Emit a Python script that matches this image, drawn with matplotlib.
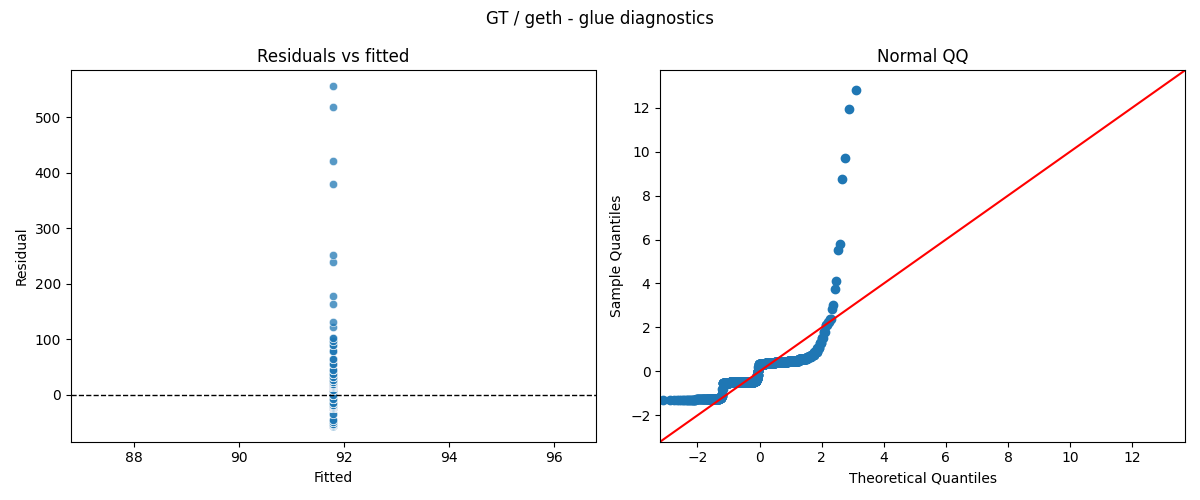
import matplotlib
matplotlib.use("Agg")
import matplotlib.pyplot as plt
import numpy as np
from statistics import NormalDist

# residual levels (raw units) and how many observations sit at each
res_levels = [-57, -56, -55, -53, -50, -45, -35,
              -24, -22, -21, -19, -15, -8, 0, 8,
              13, 16, 18, 20, 23, 27, 32, 38, 45, 55, 65, 78, 90, 97, 103,
              122, 131, 163, 178, 240, 252, 380, 422, 518, 557]
res_counts = [20, 40, 40, 10, 5, 3, 2,
              50, 150, 120, 30, 10, 8, 8, 10,
              80, 120, 130, 80, 40, 15, 10, 8, 5, 4, 3, 3, 3, 2, 2,
              1, 1, 1, 1, 1, 1, 1, 1, 1, 1]
fitted_value = 91.8

resid = np.repeat(res_levels, res_counts).astype(float)
fitted = np.full(resid.shape, fitted_value)

fig, (ax1, ax2) = plt.subplots(1, 2, figsize=(12, 5), dpi=100)
fig.suptitle("GT / geth - glue diagnostics")

ax1.scatter(fitted, resid, s=36, alpha=0.75, color="#1f77b4", edgecolors="white", linewidths=0.5)
ax1.axhline(0, color="black", linestyle="--", linewidth=1)
ax1.set_xlim(86.8, 96.8)
ax1.set_ylim(-85, 585)
ax1.set_title("Residuals vs fitted")
ax1.set_xlabel("Fitted")
ax1.set_ylabel("Residual")

z = np.sort((resid - resid.mean()) / resid.std(ddof=1))
n = len(z)
theo = np.array([NormalDist().inv_cdf(i / (n + 1)) for i in range(1, n + 1)])
ax2.plot(theo, z, "o", color="#1f77b4", markersize=6, linestyle="none")
ax2.set_xlim(-3.2, 13.7)
ax2.set_ylim(-3.2, 13.7)
ax2.plot([-3.2, 13.7], [-3.2, 13.7], color="red")
ax2.set_title("Normal QQ")
ax2.set_xlabel("Theoretical Quantiles")
ax2.set_ylabel("Sample Quantiles")

fig.tight_layout()
fig.savefig("out.png")
